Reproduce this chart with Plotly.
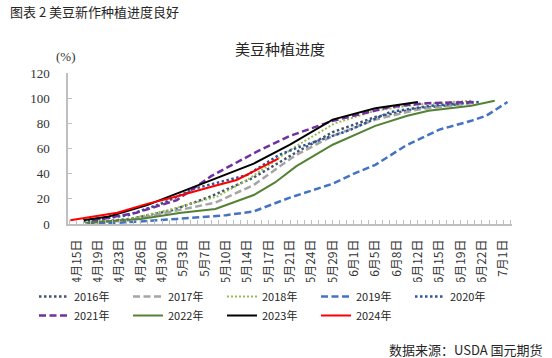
import plotly.graph_objects as go

# x-axis category labels (positions 0..20 on the axis)
date_labels = ["4月15日", "4月19日", "4月23日", "4月26日", "4月30日", "5月3日", "5月7日",
               "5月10日", "5月14日", "5月17日", "5月21日", "5月24日", "5月29日", "6月1日",
               "6月5日", "6月8日", "6月12日", "6月15日", "6月19日", "6月22日", "7月1日"]

# series: x in label-index units, y in %
x_2016 = [0.7, 2.5, 4.5, 6.3, 8.3, 10.2, 12.0, 14.0, 16.0, 17.8]
y_2016 = [1, 4, 11, 22, 37, 56, 73, 85, 92, 95]

x_2017 = [0.7, 2.5, 4.5, 6.5, 8.3, 10.2, 12.0, 14.0, 16.0, 18.5]
y_2017 = [1, 3, 10, 17, 31, 54, 70, 83, 91, 96]

x_2018 = [0.7, 2.5, 4.5, 6.6, 8.0, 10.2, 12.1, 14.0, 16.0, 18.5]
y_2018 = [1, 4, 12, 22, 35, 61, 80, 90, 95, 98]

x_2019 = [0.5, 2.0, 4.7, 7.0, 8.3, 10.0, 12.0, 13.0, 14.0, 15.4, 17.0, 18.5, 19.2, 20.2]
y_2019 = [0, 1, 4, 7, 10, 21, 32, 40, 47, 62, 75, 82, 86, 97]

x_2020 = [0.3, 2.4, 4.1, 5.5, 8.0, 9.5, 10.4, 12.7, 14.7, 16.6, 18.9]
y_2020 = [2, 7, 17, 28, 39, 55, 61, 74, 89, 94, 97]

x_2021 = [0.7, 2.8, 4.7, 6.3, 8.5, 10.0, 12.0, 14.7, 16.4, 18.6]
y_2021 = [2.5, 9, 19, 38, 58, 70, 82, 93, 96, 97]

x_2022 = [0.4, 3.0, 4.9, 6.5, 8.3, 9.3, 10.3, 12.0, 14.0, 15.5, 16.5, 18.5, 19.6]
y_2022 = [1, 4, 9, 12, 23, 33, 46, 63, 78, 86, 90, 94, 98]

x_2023 = [0.3, 1.5, 3.3, 5.0, 6.5, 8.3, 10.0, 12.0, 14.0, 16.0]
y_2023 = [3, 6, 15, 26, 36, 48, 63, 83, 92, 97]

x_2024 = [-0.3, 1.9, 3.3, 4.5, 6.4, 7.5, 9.45]
y_2024 = [3, 9, 16, 21, 30, 35, 52]

DOT = "2.5px,2.5px"
DASH = "7px,3.5px"
series = [
    ("2016年", x_2016, y_2016, "#44546A", DOT, 2.5),
    ("2017年", x_2017, y_2017, "#A5A5A5", DASH, 2.5),
    ("2018年", x_2018, y_2018, "#9BBB59", "2px,2px", 2),
    ("2019年", x_2019, y_2019, "#4472C4", DASH, 2.5),
    ("2020年", x_2020, y_2020, "#2F5597", DOT, 2.5),
    ("2021年", x_2021, y_2021, "#7030A0", DASH, 2.5),
    ("2022年", x_2022, y_2022, "#548235", "solid", 2),
    ("2023年", x_2023, y_2023, "#000000", "solid", 2),
    ("2024年", x_2024, y_2024, "#FF0000", "solid", 2),
]

fig = go.Figure()
for name, xs, ys, color, dash, w in series:
    fig.add_trace(go.Scatter(x=xs, y=ys, mode="lines", name=name,
                             line=dict(color=color, dash=dash, width=w)))

sans = "Noto Sans CJK SC"
serif = "Liberation Serif"

W, H = 552, 358
ML, MR, MT, MB = 68, 40, 73, 134
pw = W - ML - MR
ph = H - MT - MB

fig.update_layout(
    width=W, height=H,
    margin=dict(l=ML, r=MR, t=MT, b=MB, autoexpand=False),
    plot_bgcolor="white", paper_bgcolor="white",
    showlegend=True,
    legend=dict(orientation="h", xref="paper", yref="paper",
                x=(34 - ML) / pw, y=(H - MB - 282) / ph, xanchor="left", yanchor="top",
                entrywidth=49, entrywidthmode="pixels",
                font=dict(family=sans, size=11, color="#262626"),
                tracegroupgap=0, itemwidth=30),
    xaxis=dict(range=[-0.41, 20.41], tickvals=list(range(len(date_labels))),
               ticktext=date_labels, tickangle=-90,
               tickfont=dict(family=sans, size=12, color="#333333"),
               showline=True, linecolor="#BFBFBF", linewidth=1.5,
               ticks="inside", ticklen=4, tickcolor="#BFBFBF",
               minor=dict(dtick=1/3, tick0=0, ticks="inside", ticklen=4, tickcolor="#BFBFBF"),
               showgrid=False, zeroline=False, ticklabelstandoff=9, automargin=False),
    yaxis=dict(range=[0, 120], dtick=20,
               tickfont=dict(family=serif, size=13, color="#333333"),
               showline=True, linecolor="#BFBFBF", linewidth=1.5,
               ticks="inside", ticklen=4, tickcolor="#BFBFBF",
               showgrid=False, zeroline=False, ticklabelstandoff=14, automargin=False),
)

def ann(text, px, py, anchor, font):
    fig.add_annotation(text=text, xref="paper", yref="paper",
                       x=(px - ML) / pw, y=(H - MB - py) / ph,
                       xanchor=anchor, yanchor="middle", showarrow=False, font=font)

ann("图表 2 美豆新作种植进度良好", 8, 12, "left", dict(family=sans, size=13, color="#262626"))
ann("美豆种植进度", 280, 48, "center", dict(family=sans, size=15, color="#262626"))
ann("(%)", 66, 57, "center", dict(family=serif, size=13, color="#333333"))
ann("数据来源：USDA 国元期货", 545, 349, "right", dict(family=sans, size=13, color="#262626"))

fig.write_html("out.html", config={"displayModeBar": False},
               post_script="document.body.style.margin='0';")
